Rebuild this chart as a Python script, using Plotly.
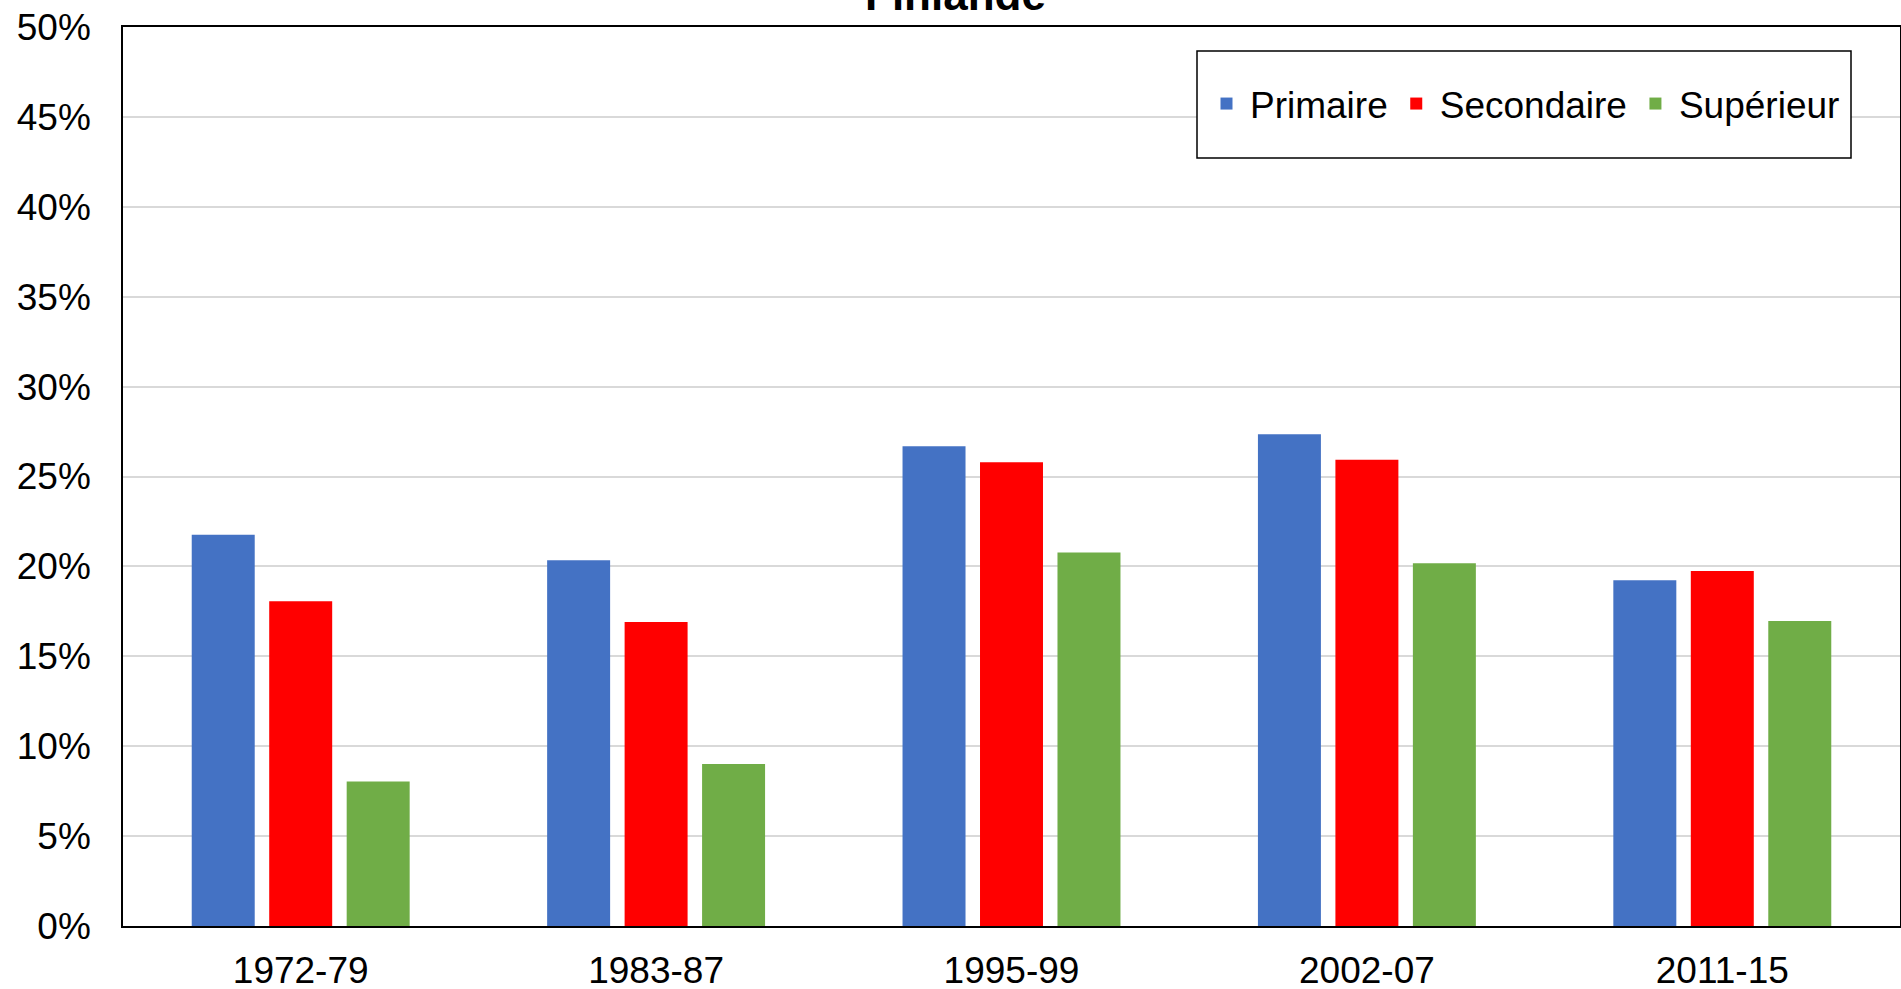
import plotly.graph_objects as go

periods = ["1972-79", "1983-87", "1995-99", "2002-07", "2011-15"]
primaire = [21.76, 20.34, 26.68, 27.35, 19.23]
secondaire = [18.06, 16.91, 25.79, 25.93, 19.74]
superieur = [8.03, 9.01, 20.78, 20.17, 16.96]
series_names = ["Primaire", "Secondaire", "Supérieur"]
series_colors = ["#4472C4", "#FF0000", "#70AD47"]
title_text = "Finlande"

FONT = "Liberation Sans, Arial, sans-serif"

fig = go.Figure()
for name, vals, col in zip(series_names, [primaire, secondaire, superieur], series_colors):
    fig.add_trace(go.Bar(x=periods, y=vals, name=name, marker=dict(color=col, line=dict(width=0))))

W, H = 1901, 989
L, R, T, B = 123, 1, 27, 63
pw = W - L - R
ph = H - T - B

def px_x(px):
    return (px - L) / pw

def px_y(py):
    return 1 - (py - T) / ph

fig.update_layout(
    width=W, height=H,
    margin=dict(l=L, r=R, t=T, b=B, pad=0, autoexpand=False),
    paper_bgcolor="white", plot_bgcolor="white",
    font=dict(family=FONT, size=37, color="black"),
    barmode="group", bargap=0.346, bargroupgap=0.187,
    showlegend=True,
    legend=dict(
        orientation="h", x=px_x(1203), y=px_y(104), xanchor="left", yanchor="middle",
        bgcolor="rgba(0,0,0,0)", borderwidth=0,
        font=dict(family=FONT, size=37, color="black"),
        itemsizing="constant", itemwidth=37,
    ),
    shapes=[dict(
        type="rect", xref="paper", yref="paper",
        x0=px_x(1197), x1=px_x(1851), y0=px_y(158), y1=px_y(51),
        line=dict(color="black", width=1.5), fillcolor="white", layer="above",
    )],
    annotations=[dict(
        text="<b>" + title_text + "</b>", xref="paper", yref="paper",
        x=px_x(955), y=1, xanchor="center", yanchor="middle", yshift=33,
        showarrow=False, font=dict(family=FONT, size=44, color="black"),
    )],
)

fig.update_xaxes(
    type="category", automargin=False,
    showline=True, mirror=True, linecolor="black", linewidth=1.5,
    showgrid=False, ticks="", ticklabelstandoff=11,
    tickfont=dict(family=FONT, size=37, color="black"),
)
fig.update_yaxes(
    range=[0, 50], dtick=5, tick0=0, ticksuffix="%", automargin=False,
    showline=True, mirror=True, linecolor="black", linewidth=1.5,
    showgrid=True, gridcolor="#D9D9D9", gridwidth=1.5,
    zeroline=False, ticks="", ticklabelstandoff=23,
    tickfont=dict(family=FONT, size=37, color="black"),
)

fig.write_html("out.html", config={"displayModeBar": False},
               post_script="document.body.style.margin='0';document.body.style.overflow='hidden';")
